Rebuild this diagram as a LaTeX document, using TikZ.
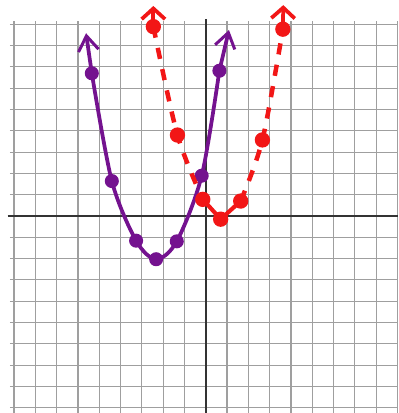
\documentclass[tikz,border=0pt]{standalone}
\usetikzlibrary{arrows.meta}
\definecolor{parabpurple}{HTML}{74128F}
\definecolor{parabred}{HTML}{F21616}
\begin{document}
\begin{tikzpicture}[
  gridline/.style={gray!75, line width=1.5pt},
  axisline/.style={black!80, line width=2.8pt},
  pcurve/.style={parabpurple, line width=5pt, line cap=round, line join=round},
  rcurve/.style={parabred, line width=6pt, dash pattern=on 15pt off 14pt},
  pdot/.style={circle, fill=parabpurple, inner sep=0pt, minimum size=0.66cm},
  rdot/.style={circle, fill=parabred, inner sep=0pt, minimum size=0.72cm},
  pbarb/.style={-{Straight Barb[length=0.7cm, width=0.95cm, line width=4pt]}},
  rbarb/.style={-{Straight Barb[length=0.5cm, width=1.1cm, line width=5pt]}}
]
  \useasboundingbox (-9.66,-9.25) rectangle (9.03,10.14);
  % grid and axes
  \foreach \x in {-9,...,9}{\draw[gridline] (\x,-9.25) -- (\x,9.15);}
  \foreach \y in {-9,...,9}{\draw[gridline] (-9.2,\y) -- (9.03,\y);}
  \draw[axisline] (-9.3,0) -- (9.03,0);
  \draw[axisline] (0,-9.25) -- (0,9.25);
  % purple parabola
  \foreach \i/\x/\y in {1/-5.35/6.7, 2/-4.41/1.64, 3/-3.27/-1.16, 4/-2.33/-2.03, 5/-1.36/-1.19, 6/-0.19/1.89, 7/0.64/6.82}{
     \coordinate (p\i) at (\x,\y);}
  \coordinate (ptipl) at (-5.62,8.58);
  \coordinate (ptipr) at (1.09,8.73);
  \draw[pcurve] plot[smooth, tension=0.5] coordinates {(p1) (p2) (p3) (p4) (p5) (p6) (p7)};
  \draw[pcurve, pbarb] (p1) -- (ptipl);
  \draw[pcurve, pbarb] (p7) -- (ptipr);
  \foreach \i in {1,...,7}{\node[pdot] (pd\i) at (p\i) {};}
  % red parabola
  \foreach \i/\x/\y in {1/-2.46/8.89, 2/-1.33/3.8, 3/-0.14/0.78, 4/0.70/-0.15, 5/1.64/0.7, 6/2.66/3.57, 7/3.62/8.77}{
     \coordinate (r\i) at (\x,\y);}
  \coordinate (rtipl) at (-2.46,9.86);
  \coordinate (rtipr) at (3.64,9.9);
  \draw[rcurve] plot[smooth, tension=0.5] coordinates {(r1) (r2) (r3)};
  \draw[rcurve] plot[smooth, tension=0.5] coordinates {(r5) (r6) (r7)};
  \draw[parabred, line width=5.5pt, line join=round] (r3) -- (r4) -- (r5);
  \draw[parabred, line width=5pt, rbarb] (r1) -- (rtipl);
  \draw[parabred, line width=5pt, rbarb] (r7) -- (rtipr);
  \foreach \i in {1,...,7}{\node[rdot] (rd\i) at (r\i) {};}
\end{tikzpicture}
\end{document}
